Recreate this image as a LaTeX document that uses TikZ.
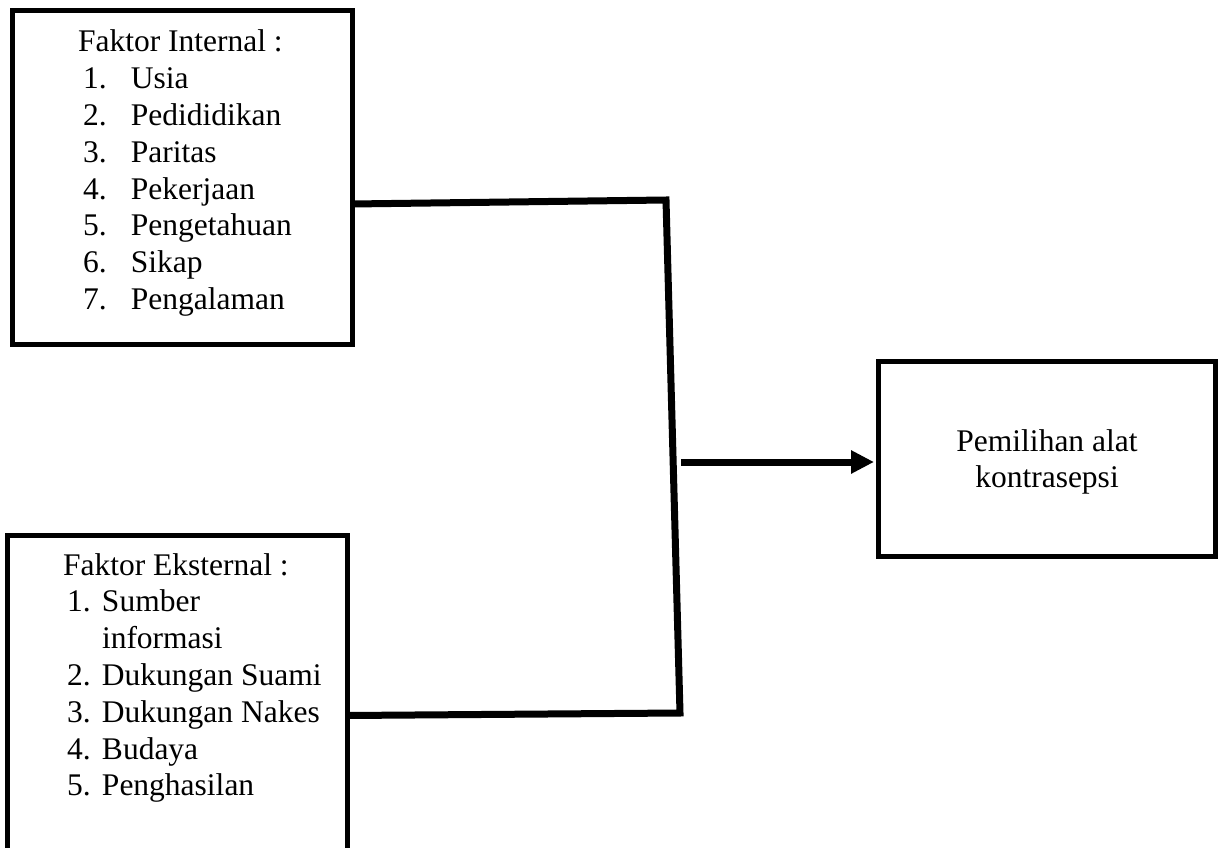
\documentclass[tikz,border=0pt]{standalone}
\usepackage{fontspec}
\setmainfont{Liberation Serif}
\usetikzlibrary{arrows.meta,calc}
\begin{document}
\begin{tikzpicture}[x=1pt,y=-1pt,
  box/.style={draw, rectangle, line width=5pt, inner sep=0pt, outer sep=0pt},
  conn/.style={line width=7pt},
  txt/.style={inner sep=0pt, outer sep=0pt, font=\fontsize{31.5}{36.8}\selectfont},
  arr/.style={line width=7pt, -{Triangle[length=23pt,width=22pt]}}]
\useasboundingbox (0,0) rectangle (1218,848);
\fill[white] (0,0) rectangle (1218,848);

% boxes
\node[box, minimum width=339.5pt, minimum height=334pt] (b1) at (182.25,177.5) {};
\node[box, minimum width=340pt, minimum height=330pt] (b2) at (177.5,700) {};
\node[box, minimum width=337pt, minimum height=195pt] (b3) at (1046.5,458.5) {};

% texts
\node[txt, anchor=base west] (t1) at (78,52) {\begin{tabular}[t]{@{}l@{}}
Faktor Internal :\\
\hspace*{5pt}\makebox[48pt][l]{1.}Usia\\
\hspace*{5pt}\makebox[48pt][l]{2.}Pedididikan\\
\hspace*{5pt}\makebox[48pt][l]{3.}Paritas\\
\hspace*{5pt}\makebox[48pt][l]{4.}Pekerjaan\\
\hspace*{5pt}\makebox[48pt][l]{5.}Pengetahuan\\
\hspace*{5pt}\makebox[48pt][l]{6.}Sikap\\
\hspace*{5pt}\makebox[48pt][l]{7.}Pengalaman
\end{tabular}};

\node[txt, anchor=base west] (t2) at (63,575) {\begin{tabular}[t]{@{}l@{}}
Faktor Eksternal :\\
\hspace*{4pt}\makebox[35pt][l]{1.}Sumber\\
\hspace*{39pt}informasi\\
\hspace*{4pt}\makebox[35pt][l]{2.}Dukungan Suami\\
\hspace*{4pt}\makebox[35pt][l]{3.}Dukungan Nakes\\
\hspace*{4pt}\makebox[35pt][l]{4.}Budaya\\
\hspace*{4pt}\makebox[35pt][l]{5.}Penghasilan
\end{tabular}};

\node[txt, anchor=base] (t3) at (1047,451) {\begin{tabular}[t]{@{}c@{}}
Pemilihan alat\\
kontrasepsi
\end{tabular}};

% connectors
\coordinate (j1) at (666,200);
\coordinate (j2) at (680,713);
\coordinate (a) at (681,462);
\draw[conn] ([yshift=-26.5pt]b1.east) -- (j1) -- (j2) -- ([yshift=-15.5pt]b2.east);
\draw[arr] (a) -- ($(b3.west |- a)+(-4,0)$);
\end{tikzpicture}
\end{document}
